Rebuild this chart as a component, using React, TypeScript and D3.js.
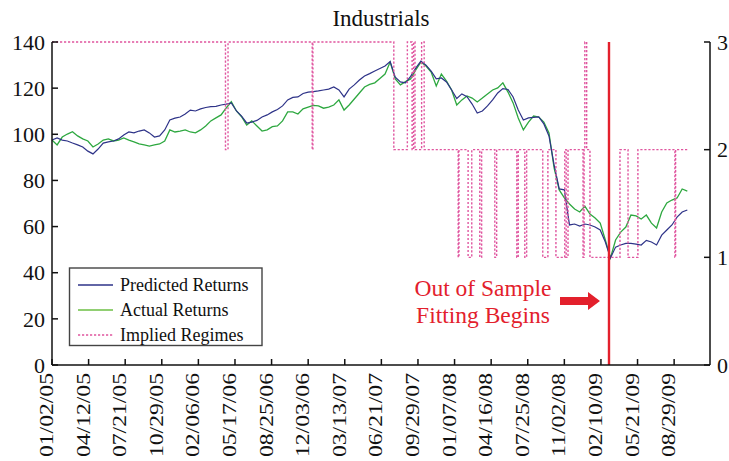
import React, { useEffect } from "react";
import * as d3 from "d3";

// ---------- data ----------
const SERIES_START = "2005-01-02";
const STEP_DAYS = 14;

const predicted = [
  97.5, 98.4, 97.5, 97.1, 96.2, 95.4, 94.5, 92.7, 91.5, 93.6,
  96.2, 96.7, 97.1, 98.0, 99.7, 101.0, 100.6, 101.4, 101.9, 100.6,
  98.8, 99.3, 101.9, 106.2, 107.0, 107.5, 108.8, 110.5, 110.1, 111.0,
  111.6, 112.0, 112.1, 112.7, 113.1, 113.6, 110.1, 107.9, 104.9, 105.3,
  106.0, 107.5, 108.4, 109.7, 110.7, 112.3, 114.9, 116.0, 116.2, 117.7,
  118.3, 118.5, 118.8, 119.2, 119.6, 120.5, 119.2, 116.2, 119.6, 121.4,
  123.5, 125.3, 126.3, 127.4, 128.5, 129.6, 131.5, 124.8, 122.7, 122.3,
  125.1, 128.7, 131.7, 130.0, 127.4, 124.0, 124.4, 122.7, 119.2, 115.5,
  117.5, 116.3, 113.1, 109.2, 110.1, 112.3, 114.9, 117.9, 119.8, 119.4,
  116.2, 110.5, 106.2, 107.1, 107.3, 107.5, 104.5, 99.3, 86.7, 76.3,
  75.9, 60.7, 61.1, 60.2, 61.1, 60.7, 59.8, 58.5, 53.3, 46.4,
  51.1, 52.0, 52.7, 52.7, 52.4, 52.0, 54.0, 53.3, 52.0, 56.3,
  58.5, 60.7, 64.1, 66.3, 67.2,
];

const actual = [
  97.5, 95.4, 98.8, 100.1, 101.1, 99.3, 98.0, 97.1, 94.5, 95.8,
  97.5, 98.0, 97.1, 97.5, 98.4, 97.5, 96.7, 95.8, 95.4, 94.9,
  95.4, 95.8, 97.1, 101.9, 101.0, 101.4, 101.9, 101.0, 100.6, 101.9,
  103.6, 105.8, 107.1, 108.4, 111.4, 114.1, 110.1, 107.6, 104.0, 105.8,
  103.6, 101.4, 101.9, 103.3, 103.6, 105.8, 109.7, 109.7, 108.8, 111.0,
  111.8, 112.5, 112.3, 111.3, 111.8, 112.7, 114.9, 110.5, 112.7, 115.3,
  117.9, 120.5, 121.6, 122.3, 124.2, 126.1, 131.3, 124.0, 121.4, 122.8,
  124.0, 127.9, 131.3, 129.6, 127.0, 120.9, 126.1, 123.1, 119.2, 112.7,
  114.9, 116.6, 115.7, 114.0, 115.7, 117.5, 119.2, 120.1, 122.3, 118.3,
  113.6, 107.1, 101.9, 105.3, 107.9, 107.5, 105.3, 100.6, 85.4, 75.9,
  72.4, 69.8, 67.6, 66.3, 68.9, 65.4, 63.7, 61.5, 54.2, 46.4,
  54.2, 57.6, 59.8, 65.0, 64.6, 63.3, 65.0, 61.5, 59.4, 66.3,
  70.2, 71.5, 72.4, 76.3, 75.4,
];

const regimeDates = [
  "2005-01-02", "2006-04-21", "2006-04-28", "2006-12-14", "2006-12-16",
  "2007-07-25", "2007-08-31", "2007-09-13", "2007-09-17", "2007-09-21",
  "2007-10-09", "2007-10-16", "2008-01-17", "2008-01-19", "2008-02-13",
  "2008-02-23", "2008-03-16", "2008-03-21", "2008-04-26", "2008-05-01",
  "2008-06-25", "2008-06-29", "2008-07-17", "2008-07-22", "2008-09-04",
  "2008-09-18", "2008-10-10", "2008-11-03", "2008-11-07", "2008-11-12",
  "2008-12-23", "2008-12-26", "2008-12-28", "2009-01-02", "2009-01-11",
  "2009-04-03", "2009-04-25", "2009-05-22", "2009-08-31", "2009-09-02",
  "2009-10-04",
];
const regimeValues = [
  3, 2, 3, 2, 3,
  2, 3, 2, 3, 2,
  3, 2, 1, 2, 1,
  2, 1, 2, 1, 2,
  1, 2, 1, 2, 1,
  2, 1, 2, 1, 2,
  1, 2, 3, 2, 1,
  2, 1, 2, 1, 2,
  2,
];

const xTickLabels = [
  "01/02/05", "04/12/05", "07/21/05", "10/29/05", "02/06/06", "05/17/06",
  "08/25/06", "12/03/06", "03/13/07", "06/21/07", "09/29/07", "01/07/08",
  "04/16/08", "07/25/08", "11/02/08", "02/10/09", "05/21/09", "08/29/09",
];
const leftTicks = [0, 20, 40, 60, 80, 100, 120, 140];
const rightTicks = [0, 1, 2, 3];
const AXIS_END = "2009-12-05";
const OUT_OF_SAMPLE_DATE = "2009-03-04";

const legendItems = ["Predicted Returns", "Actual Returns", "Implied Regimes"];

// ---------- styles ----------
const BLUE = "#2e3388";
const GREEN = "#2ea840";
const PINK = "#e0559f";
const RED = "#e3202c";
const FONT = "'Liberation Serif', 'Times New Roman', serif";

export default function App() {
  useEffect(() => {
    document.body.style.margin = "0";
  }, []);

  const parseISO = d3.timeParse("%Y-%m-%d");
  const parseLabel = d3.timeParse("%m/%d/%y");
  const start = parseISO(SERIES_START) as Date;

  const left = 52, right = 710, top = 42, bottom = 365;

  const x = d3.scaleTime()
    .domain([start, parseISO(AXIS_END) as Date])
    .range([left, right]);
  const yL = d3.scaleLinear().domain([0, 140]).range([bottom, top]);
  const yR = d3.scaleLinear().domain([0, 3]).range([bottom, top]);

  const dates = predicted.map((_, i) => d3.timeDay.offset(start, i * STEP_DAYS));

  const seriesLine = d3.line<number>()
    .x((_, i) => x(dates[i]))
    .y((d) => yL(d));

  const regimes: [Date, number][] = regimeDates.map((d, i) => [parseISO(d) as Date, regimeValues[i]]);
  const regimeLine = d3.line<[Date, number]>()
    .x((d) => x(d[0]))
    .y((d) => yR(d[1]))
    .curve(d3.curveStepAfter);

  const oosX = x(parseISO(OUT_OF_SAMPLE_DATE) as Date);

  return (
    <svg width={729} height={461} style={{ position: "absolute", left: 0, top: 0, background: "#fff" }}
      fontFamily={FONT}>
      <rect x={0} y={0} width={729} height={461} fill="#fff" />
      {/* title */}
      <text x={381} y={26} textAnchor="middle" fontSize={23} fill="#111">Industrials</text>

      {/* series */}
      <path d={seriesLine(actual) || ""} fill="none" stroke={GREEN} strokeWidth={1.3} />
      <path d={seriesLine(predicted) || ""} fill="none" stroke={BLUE} strokeWidth={1.2} />
      <path d={regimeLine(regimes) || ""} fill="none" stroke={PINK} strokeWidth={1.4} strokeDasharray="2.2,1.8" />

      {/* out of sample line */}
      <line x1={oosX} x2={oosX} y1={top} y2={bottom} stroke={RED} strokeWidth={2.4} />

      {/* axes */}
      <g stroke="#111" strokeWidth={1.5} fill="none">
        <line x1={left} x2={left} y1={top} y2={bottom} />
        <line x1={right} x2={right} y1={top} y2={bottom} />
        <line x1={left} x2={right} y1={bottom} y2={bottom} />
        {leftTicks.map((t) => (
          <line key={"lt" + t} x1={left} x2={left + 6} y1={yL(t)} y2={yL(t)} />
        ))}
        {rightTicks.map((t) => (
          <line key={"rt" + t} x1={right - 6} x2={right} y1={yR(t)} y2={yR(t)} />
        ))}
        {xTickLabels.map((l) => {
          const tx = x(parseLabel(l) as Date);
          return <line key={"xt" + l} x1={tx} x2={tx} y1={bottom} y2={bottom - 6} />;
        })}
      </g>
      <g fontSize={22} fill="#111">
        {leftTicks.map((t) => (
          <text key={"ll" + t} x={45} y={yL(t)} dy="0.35em" textAnchor="end">{t}</text>
        ))}
        {rightTicks.map((t) => (
          <text key={"rl" + t} x={717} y={yR(t)} dy="0.35em" textAnchor="start">{t}</text>
        ))}
      </g>
      <g fontSize={18} fill="#111">
        {xTickLabels.map((l) => {
          const tx = x(parseLabel(l) as Date) + 1;
          return (
            <text key={"xl" + l} transform={`translate(${tx},373) rotate(-90)`} textAnchor="end"
              textLength={84} lengthAdjust="spacingAndGlyphs">{l}</text>
          );
        })}
      </g>

      {/* legend */}
      <rect x={69.5} y={268} width={192.5} height={77.5} fill="#fff" stroke="#444" strokeWidth={1.4} />
      {legendItems.map((name, i) => {
        const ly = 285 + i * 25;
        const stroke = i === 0 ? BLUE : i === 1 ? "#6cbf45" : PINK;
        return (
          <g key={name}>
            <line x1={78} x2={113} y1={ly} y2={ly} stroke={stroke} strokeWidth={1.4}
              strokeDasharray={i === 2 ? "2.2,1.8" : undefined} />
            <text x={120} y={ly} dy="0.33em" fontSize={18} fill="#111">{name}</text>
          </g>
        );
      })}

      {/* annotation */}
      <g fill={RED}>
        <text x={483} y={296} textAnchor="middle" fontSize={23.5}>Out of Sample</text>
        <text x={483} y={323} textAnchor="middle" fontSize={23.5}>Fitting Begins</text>
        <polygon points="560,297 588,297 588,292 600,301 588,310 588,305 560,305" />
      </g>
    </svg>
  );
}
